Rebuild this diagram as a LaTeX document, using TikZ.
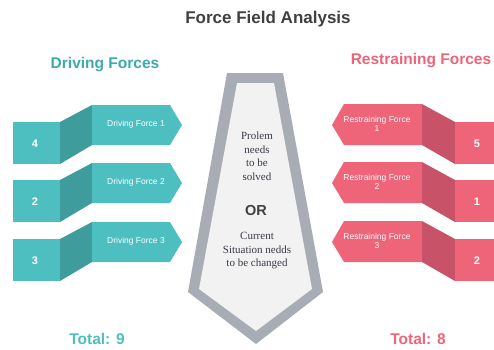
\documentclass[tikz,border=0pt]{standalone}
\usepackage{fontspec}
\setmainfont{Liberation Sans}
\newfontfamily\tieserif{Liberation Serif}
\definecolor{tealf}{HTML}{4DBFC0}
\definecolor{teald}{HTML}{3E9C9D}
\definecolor{tealt}{HTML}{3CAAAA}
\definecolor{pinkf}{HTML}{EE6479}
\definecolor{pinkd}{HTML}{C85268}
\definecolor{tieg}{HTML}{A8ACB4}
\definecolor{tiein}{HTML}{F2F2F2}
\definecolor{titlec}{HTML}{404040}
\definecolor{tietext}{HTML}{3A3A48}
\begin{document}
\begin{tikzpicture}[x=1pt,y=-1pt,
  lbl/.style={text=white,font=\fontsize{8.5}{9}\selectfont,align=center,inner sep=0pt},
  num/.style={text=white,font=\bfseries\fontsize{11}{12}\selectfont,inner sep=0pt},
  head/.style={font=\bfseries\fontsize{15.5}{17}\selectfont,inner sep=0pt},
  tiet/.style={text=tietext,font=\tieserif\fontsize{11}{13.5}\selectfont,align=center,inner sep=0pt}]
\useasboundingbox (0,0) rectangle (494,349);
% title and headings
\node[head,text=titlec,font=\bfseries\fontsize{17}{19}\selectfont] (title) at (268,19) {Force Field Analysis};
\node[head,text=tealt] (dhead) at (105,65) {Driving Forces};
\node[head,text=pinkf] (rhead) at (421,61) {Restraining Forces};
\node[head,text=tealf] (dtotal) at (97,339) {Total: 9};
\node[head,text=pinkf] (rtotal) at (418,339) {Total: 8};
% tie
\fill[tieg] (227,73) -- (283,73) -- (323,292) -- (256,344) -- (188,292) -- cycle;
\fill[tiein] (237,83) -- (274,83) -- (312,289) -- (256,331) -- (199,289) -- cycle;
\node[tiet] (prob) at (257,156) {Prolem\\needs\\to be\\solved};
\node[font=\bfseries\fontsize{14.5}{16}\selectfont,text=titlec,inner sep=0pt] (or) at (256,210) {OR};
\node[tiet] (curr) at (257,251) {Current\\Situation nedds\\to be changed};
% driving forces
\foreach \dy/\n/\k in {0/4/1,58/2/2,117/3/3}{
  \fill[tealf] (13,122+\dy) rectangle (60,164+\dy);
  \fill[teald] (60,122+\dy) -- (92,105+\dy) -- (92,145+\dy) -- (60,164+\dy) -- cycle;
  \fill[tealf] (92,105+\dy) -- (170,105+\dy) -- (182,125+\dy) -- (170,145+\dy) -- (92,145+\dy) -- cycle;
  \node[num] (dn\k) at (35,144+\dy) {\n};
  \node[lbl] (dl\k) at (136,124+\dy) {Driving Force \k};
}
% restraining forces
\foreach \dy/\n/\k in {0/5/1,58/1/2,117/2/3}{
  \fill[pinkf] (332,125+\dy) -- (344,104+\dy) -- (422,104+\dy) -- (422,145+\dy) -- (344,145+\dy) -- cycle;
  \fill[pinkd] (422,104+\dy) -- (455,122+\dy) -- (455,164+\dy) -- (422,145+\dy) -- cycle;
  \fill[pinkf] (455,122+\dy) rectangle (494,164+\dy);
  \node[num] (rn\k) at (477,144+\dy) {\n};
  \node[lbl] (rl\k) at (377,124+\dy) {Restraining Force\\\k};
}
\end{tikzpicture}
\end{document}
